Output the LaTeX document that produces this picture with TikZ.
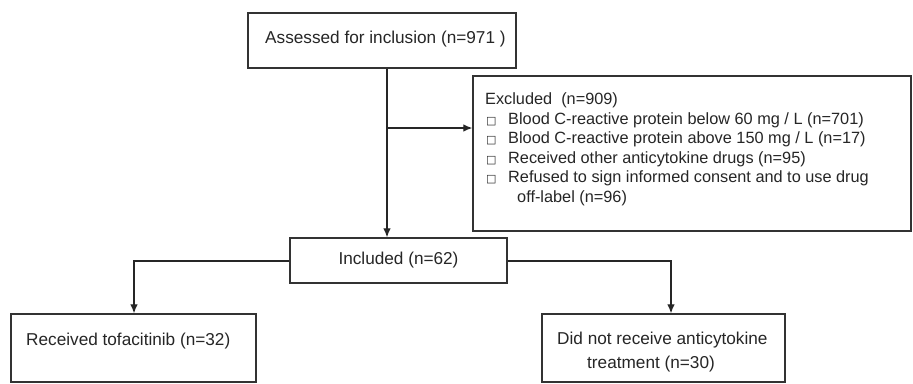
\documentclass[tikz,border=0pt]{standalone}
\usepackage{fontspec}
\setmainfont{Liberation Sans}
\newfontfamily\symfont{DejaVu Sans}
\usetikzlibrary{arrows.meta}
\begin{document}
\begin{tikzpicture}[x=1pt,y=-1pt,
  box/.style={draw=black!80, line width=1.3pt, fill=white, inner sep=0pt},
  lbl/.style={font=\fontsize{17.2}{20}\selectfont, inner sep=0pt, text=black!85},
  sml/.style={font=\fontsize{16.3}{19.6}\selectfont, inner sep=0pt, text=black!85, anchor=base west},
  conn/.style={draw=black!85, line width=1.2pt},
  arr/.style={conn, -{Latex[length=9pt,width=7.5pt]}},
  bul/.style={lbl, anchor=base west}]
\useasboundingbox[fill=white] (0,0) rectangle (913,383);
% boxes
\node[box, minimum width=268pt, minimum height=55pt] (top) at (382,40.5) {};
\node[box, minimum width=438pt, minimum height=155pt] (exc) at (692,153.5) {};
\node[box, lbl, minimum width=217pt, minimum height=45pt] (inc) at (398.5,260.5) {Included (n=62)};
\node[box, minimum width=245pt, minimum height=68pt] (lft) at (133.5,348) {};
\node[box, minimum width=243pt, minimum height=68pt] (rgt) at (663.5,348) {};
% texts
\node[bul] (ttop) at (265,43) {Assessed for inclusion (n=971 )};
\node[sml] (e0) at (485,104) {Excluded\ \ (n=909)};
\node[sml] (e1) at (486,124) {\makebox[22pt][l]{\symfont\fontsize{11}{11}\selectfont □}Blood C-reactive protein below 60 mg / L (n=701)};
\node[sml] (e2) at (486,143.5) {\makebox[22pt][l]{\symfont\fontsize{11}{11}\selectfont □}Blood C-reactive protein above 150 mg / L (n=17)};
\node[sml] (e3) at (486,163) {\makebox[22pt][l]{\symfont\fontsize{11}{11}\selectfont □}Received other anticytokine drugs (n=95)};
\node[sml] (e4) at (486,182.5) {\makebox[22pt][l]{\symfont\fontsize{11}{11}\selectfont □}Refused to sign informed consent and to use drug};
\node[sml] (e5) at (517,202) {off-label (n=96)};
\node[bul] (tl) at (26,345) {Received tofacitinib (n=32)};
\node[bul] (tr1) at (557,344) {Did not receive anticytokine};
\node[bul] (tr2) at (587,368) {treatment (n=30)};
% connectors
\coordinate (vx) at (387,0);
\coordinate (br) at (387,128);
\coordinate (lx) at (134,261);
\coordinate (rx) at (671,261);
\draw[arr] (top.south -| vx) -- (inc.north -| vx);
\draw[arr] (br) -- (exc.west |- br);
\draw[arr] (inc.west |- lx) -- (lx) -- (lft.north -| lx);
\draw[arr] (inc.east |- rx) -- (rx) -- (rgt.north -| rx);
\end{tikzpicture}
\end{document}
